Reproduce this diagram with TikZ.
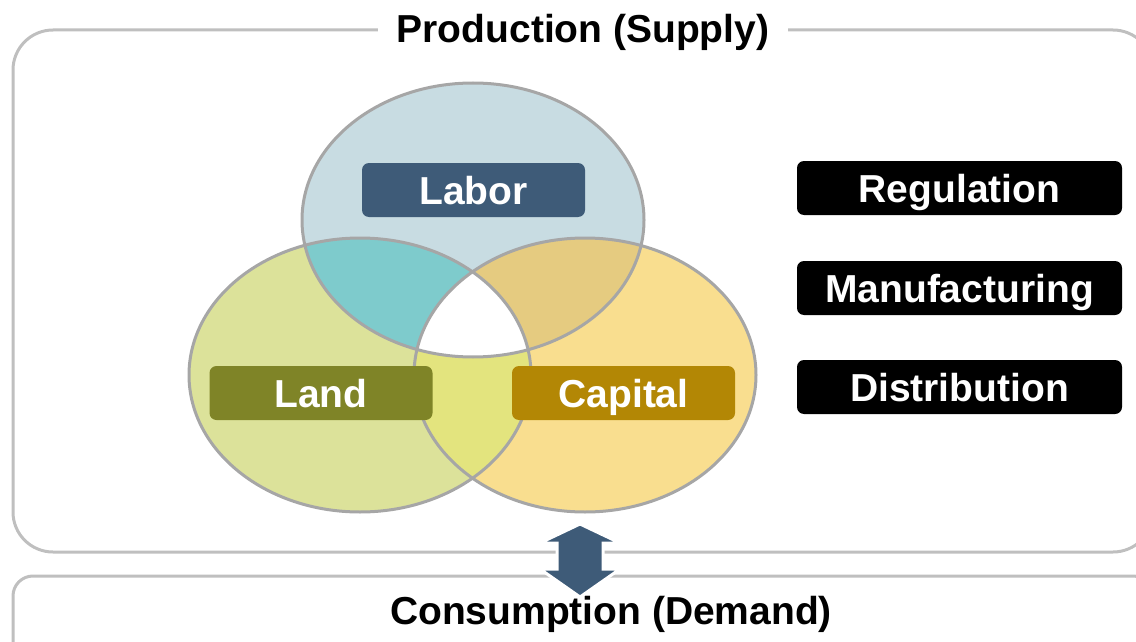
\documentclass[tikz,border=0pt]{standalone}
\usepackage{fontspec}
\setmainfont{Liberation Sans}
\usepackage{tikz}
\usetikzlibrary{positioning}
\definecolor{laborfill}{HTML}{C8DCE2}
\definecolor{landfill}{HTML}{DCE29A}
\definecolor{capitalfill}{HTML}{F9DE8F}
\definecolor{laborland}{HTML}{7ECBCC}
\definecolor{laborcapital}{HTML}{E5CB80}
\definecolor{landcapital}{HTML}{E3E47E}
\definecolor{venngray}{HTML}{A6A6A6}
\definecolor{framegray}{HTML}{BFBFBF}
\definecolor{laborbox}{HTML}{3E5B78}
\definecolor{landbox}{HTML}{7F8427}
\definecolor{capitalbox}{HTML}{B38705}
\newcommand{\bigbold}{\fontsize{39}{47}\selectfont\bfseries}
\tikzstyle{factor}=[rounded corners=7pt,minimum width=223pt,minimum height=54pt,inner sep=0pt,text=white,font=\bigbold,text height=28pt,text depth=0pt]
\tikzstyle{activity}=[factor,fill=black,minimum width=325pt]
\tikzstyle{frame}=[rectangle,draw=framegray,line width=3pt]
\tikzstyle{venn}=[draw=venngray,line width=3pt]
\tikzstyle{heading}=[font=\bigbold,text height=28pt,text depth=0pt]
\tikzstyle{updown}=[fill=laborbox,draw=white,line width=3pt,line join=miter]

\begin{document}
\begin{tikzpicture}[x=1pt,y=-1pt]
    \useasboundingbox (0,0) rectangle (1136,642);
    % Draw the two frames first
    \node[frame,rounded corners=40pt,minimum width=1140pt,minimum height=522pt] (supply) at (583,291) {};
    \node[frame,rounded corners=20pt,minimum width=1140pt,minimum height=110pt] (demand) at (583,631) {};

    % Then the three sets and their overlaps
    \coordinate (cLabor) at (473,220);
    \coordinate (cLand) at (360,375);
    \coordinate (cCapital) at (585,375);
    \foreach \name/\col in {cLand/landfill, cCapital/capitalfill, cLabor/laborfill}
        \fill[\col] (\name) ellipse [x radius=171, y radius=137];
    \foreach \a/\b/\col in {cLabor/cLand/laborland, cLabor/cCapital/laborcapital, cLand/cCapital/landcapital}
    {
        \begin{scope}
            \clip (\a) ellipse [x radius=171, y radius=137];
            \fill[\col] (\b) ellipse [x radius=171, y radius=137];
        \end{scope}
    }
    \begin{scope}
        \clip (cLabor) ellipse [x radius=171, y radius=137];
        \clip (cLand) ellipse [x radius=171, y radius=137];
        \fill[white] (cCapital) ellipse [x radius=171, y radius=137];
    \end{scope}
    \foreach \name in {cLand, cCapital, cLabor}
        \path[venn] (\name) ellipse [x radius=171, y radius=137];

    % Labels of the factors and the activities
    \foreach \pos/\name/\label/\col in {{(473.5,190)/labor/Labor/laborbox}, {(321,393)/land/Land/landbox}, {(623.5,393)/capital/Capital/capitalbox}}
        \node[factor,fill=\col] (\name) at \pos {\label};
    \foreach \pos/\name/\label in {{(959.5,188)/regulation/Regulation}, {(959.5,288)/manufacturing/Manufacturing}, {(959.5,387)/distribution/Distribution}}
        \node[activity] (\name) at \pos {\label};

    \node[heading,fill=white,inner xsep=19pt] (supplytitle) at (supply.north) {Production (Supply)};
    \node[heading] (demandtitle) at (611,610) {Consumption (Demand)};

    % Supply and demand meet
    \coordinate (mid) at (580,560);
    \path[updown] (mid) ++(0,-36) -- ++(40,19) -- ++(-17,0) -- ++(0,26) -- ++(17,0) -- ++(-40,28)
        -- ++(-40,-28) -- ++(17,0) -- ++(0,-26) -- ++(-17,0) -- cycle;
\end{tikzpicture}
\end{document}
